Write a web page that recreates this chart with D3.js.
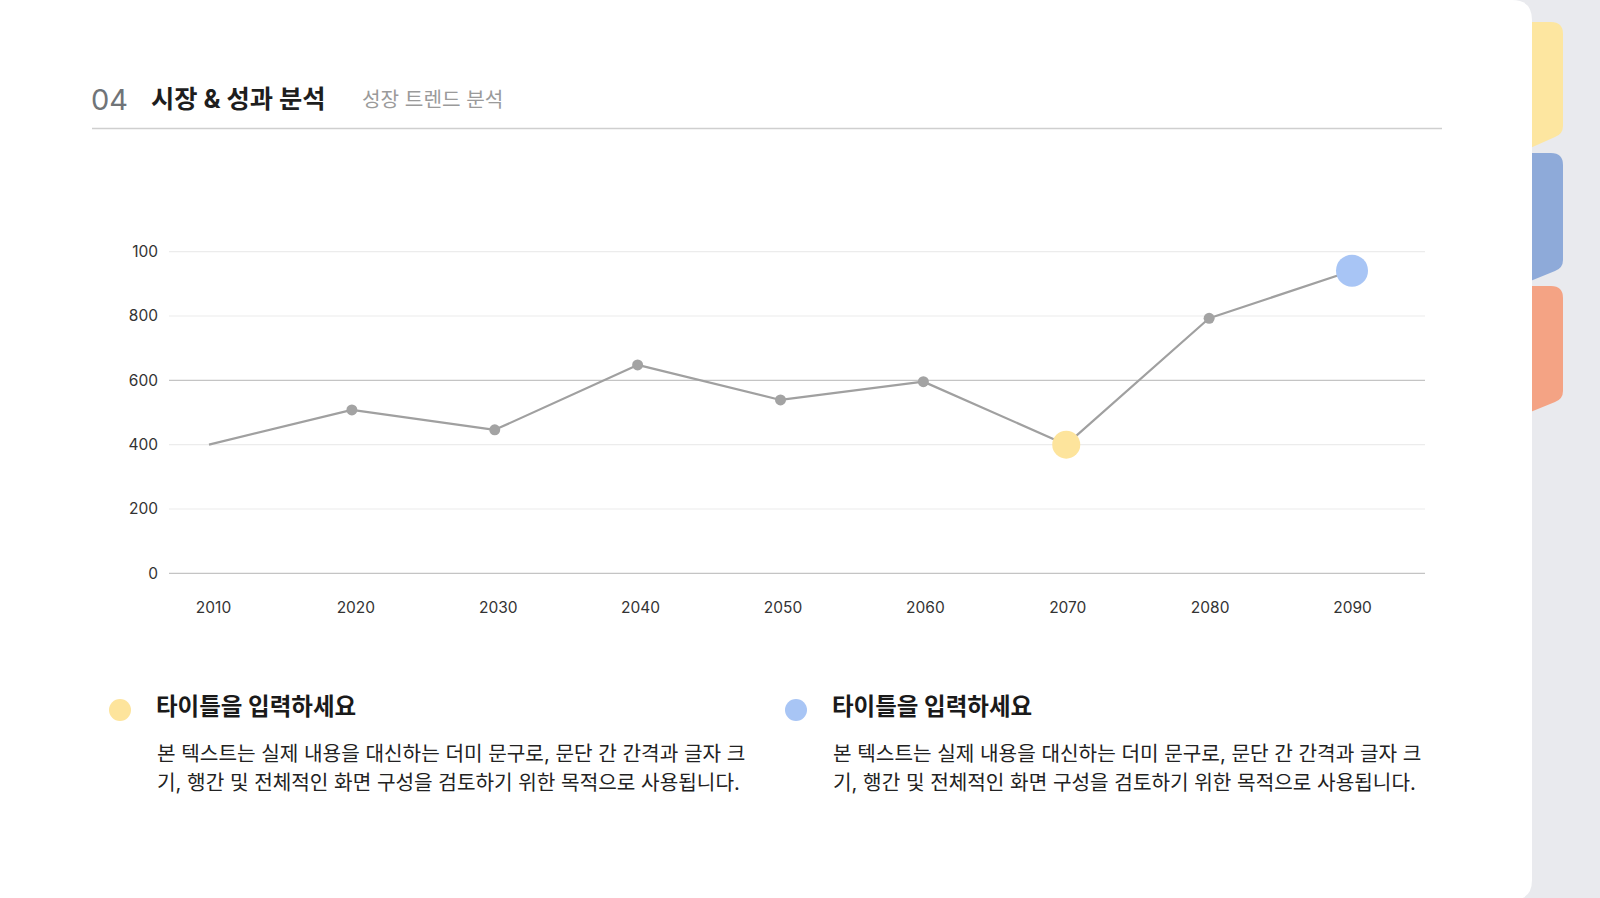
<!DOCTYPE html>
<html><head><meta charset="utf-8">
<script src="https://cdn.jsdelivr.net/npm/d3@7"></script>
<style>
html,body{margin:0;padding:0;background:#e9eaee;overflow:hidden}
svg{display:block}
text{font-family:Inter,"Noto Sans CJK KR","Noto Sans",sans-serif}
</style></head>
<body>
<svg id="c" width="1600" height="898"></svg>
<script>
// ---- data ----
const years = [2010, 2020, 2030, 2040, 2050, 2060, 2070, 2080, 2090];
const values = [400, 508, 446, 648, 539, 596, 400, 793, 941];
const yTicks = [0, 200, 400, 600, 800, 1000];
const yTickLabels = ["0", "200", "400", "600", "800", "100"];
const strongGrid = [0, 600];
const hiddenDots = [2010];
const highlightYears = [2070, 2090];
const highlightColors = ["#fde49c", "#a8c5f5"];
const sectionNo = "04";
const title = "시장 & 성과 분석";
const subtitle = "성장 트렌드 분석";
const cardTitles = ["타이틀을 입력하세요", "타이틀을 입력하세요"];
const cardLines = [
  ["본 텍스트는 실제 내용을 대신하는 더미 문구로, 문단 간 간격과 글자 크", "기, 행간 및 전체적인 화면 구성을 검토하기 위한 목적으로 사용됩니다."],
  ["본 텍스트는 실제 내용을 대신하는 더미 문구로, 문단 간 간격과 글자 크", "기, 행간 및 전체적인 화면 구성을 검토하기 위한 목적으로 사용됩니다."]
];
const tabs = [
  {top: 22, br: 134, bl: 149, color: "#fde6a0"},
  {top: 153, br: 268, bl: 282, color: "#8eaad9"},
  {top: 286, br: 399, bl: 413, color: "#f4a384"}
];

const svg = d3.select("#c");

// tabs on the right
const tx0 = 1528, tx1 = 1563;
svg.selectAll("path.tab").data(tabs).join("path")
  .attr("class", "tab")
  .attr("fill", d => d.color)
  .attr("d", d => `M${tx0},${d.top} H${tx1-12} Q${tx1},${d.top} ${tx1},${d.top+12} V${d.br-8} Q${tx1},${d.br} ${tx1-8},${d.br+3} L${tx0},${d.bl} Z`);

// white panel
svg.append("path").attr("fill", "#fff")
  .attr("d", "M0,0 H1512 Q1532,0 1532,20 V880 Q1532,900 1512,900 H0 Z");

// header
svg.append("text").attr("x", 91).attr("y", 110).attr("font-size", 29).attr("fill", "#707478").attr("font-weight", 400).text(sectionNo);
svg.append("text").attr("x", 151).attr("y", 108).attr("font-size", 25.3).attr("fill", "#1e1e1e").attr("font-weight", 700).attr("font-family", "'Noto Sans CJK KR',Inter,sans-serif").text(title);
svg.append("text").attr("x", 362).attr("y", 107).attr("font-size", 20.2).attr("fill", "#9a9a9a").attr("font-weight", 400).attr("font-family", "'Noto Sans CJK KR',Inter,sans-serif").text(subtitle);
svg.append("line").attr("x1", 92).attr("x2", 1442).attr("y1", 128.5).attr("y2", 128.5).attr("stroke", "#cfcfcf").attr("stroke-width", 1.3);

// scales
const x = d3.scalePoint().domain(years).range([209, 1352]);
const y = d3.scaleLinear().domain([0, 1000]).range([573.3, 251.7]);

// grid
const gx0 = 169, gx1 = 1425;
svg.append("g").selectAll("line").data(yTicks).join("line")
  .attr("x1", gx0).attr("x2", gx1)
  .attr("y1", d => y(d)).attr("y2", d => y(d))
  .attr("stroke", d => strongGrid.includes(d) ? "#c4c4c4" : "#ececec")
  .attr("stroke-width", 1.2);

// y axis labels
const yAxis = d3.axisLeft(y).tickValues(yTicks).tickSize(0).tickPadding(0)
  .tickFormat((d, i) => yTickLabels[i]);
const gy = svg.append("g").attr("transform", "translate(158,0)").call(yAxis);
gy.select(".domain").remove();
gy.selectAll("text").attr("font-size", 15.5).attr("fill", "#333").attr("font-family", "Inter,sans-serif");

// x axis labels
const xLabelX = d3.scalePoint().domain(years).range([213, 1352]);
const xAxis = d3.axisBottom(xLabelX).tickSize(0).tickPadding(0).tickFormat(d => String(d));
const gxa = svg.append("g").attr("transform", "translate(0,602)").call(xAxis);
gxa.select(".domain").remove();
gxa.selectAll("text").attr("font-size", 15.5).attr("fill", "#333").attr("font-family", "Inter,sans-serif");

// line
const data = years.map((yr, i) => ({year: yr, value: values[i]}));
svg.append("path").datum(data)
  .attr("fill", "none").attr("stroke", "#a0a0a0").attr("stroke-width", 2.2)
  .attr("stroke-linejoin", "round")
  .attr("d", d3.line().x(d => x(d.year)).y(d => y(d.value)));

// dots
const plain = data.filter(d => !hiddenDots.includes(d.year) && !highlightYears.includes(d.year));
svg.append("g").selectAll("circle").data(plain).join("circle")
  .attr("cx", d => x(d.year)).attr("cy", d => y(d.value))
  .attr("r", 5.5).attr("fill", "#a3a3a3");
const hl = data.filter(d => highlightYears.includes(d.year));
svg.append("g").selectAll("circle").data(hl).join("circle")
  .attr("cx", d => x(d.year)).attr("cy", d => y(d.value))
  .attr("r", (d, i) => i === 0 ? 14 : 16)
  .attr("fill", d => highlightColors[highlightYears.indexOf(d.year)]);

// cards below
const cardX = [120, 796];
const cards = svg.append("g").selectAll("g").data(cardTitles).join("g")
  .attr("transform", (d, i) => `translate(${cardX[i]},0)`);
cards.append("circle").attr("cx", 0).attr("cy", 710).attr("r", 11)
  .attr("fill", (d, i) => highlightColors[i]);
cards.append("text").attr("x", 36).attr("y", 715).attr("font-size", 23.5).attr("font-weight", 700)
  .attr("fill", "#1a1a1a").attr("font-family", "'Noto Sans CJK KR',sans-serif")
  .text(d => d);
cards.each(function(d, i) {
  const t = d3.select(this).append("text").attr("font-size", 20.2).attr("fill", "#222")
    .attr("font-family", "'Noto Sans CJK KR',sans-serif");
  cardLines[i].forEach((ln, j) => {
    t.append("tspan").attr("x", 37).attr("y", 761 + j * 29).text(ln);
  });
});
</script>
</body></html>
